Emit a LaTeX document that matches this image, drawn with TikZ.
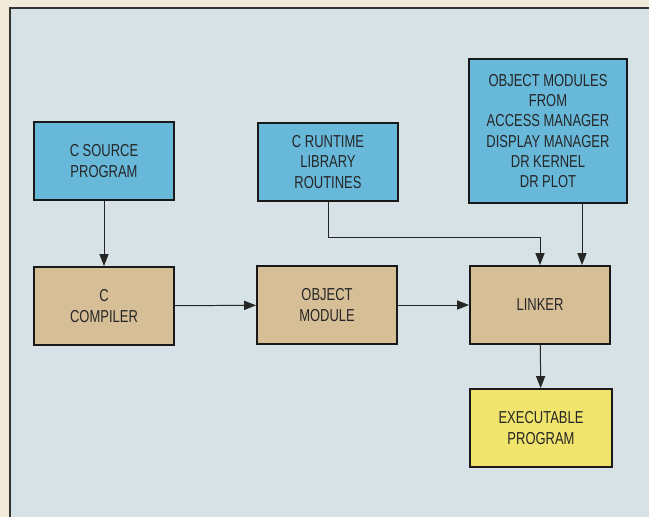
\documentclass[tikz,border=0pt]{standalone}
\usepackage{fontspec}
\newfontfamily\boxfont{Liberation Sans}[FakeStretch=0.75]
\usepackage{xcolor}
\usepackage{tikz}
\usetikzlibrary{arrows.meta,positioning,calc}
\definecolor{pagecream}{RGB}{242,234,216}
\definecolor{panelgrey}{RGB}{214,226,229}
\definecolor{inblue}{RGB}{104,184,218}
\definecolor{steptan}{RGB}{214,190,150}
\definecolor{outyellow}{RGB}{240,228,108}

\begin{document}
\begin{tikzpicture}[
  x=0.025cm,y=-0.025cm,
  every node/.style={font=\boxfont\fontsize{12.3}{14.4}\selectfont,text=black!85},
  inbox/.style={draw=black!90,line width=1.4pt,minimum width=3.5cm,minimum height=1.95cm,align=center,fill=inblue},
  stepbox/.style={draw=black!90,line width=1.4pt,minimum width=3.5cm,minimum height=1.95cm,align=center,fill=steptan},
  outbox/.style={draw=black!90,line width=1.4pt,minimum width=3.55cm,minimum height=1.95cm,align=center,fill=outyellow},
  arr/.style={-{Triangle[length=8.5pt,width=6.5pt]},line width=0.7pt,draw=black!85}
]
\useasboundingbox (0,0) rectangle (649,517);
\fill[pagecream] (0,0) rectangle (649,517);
\filldraw[fill=panelgrey,draw=black!80,line width=1.4pt] (10,8) rectangle (690,560);
% inputs
\node[inbox] (src) at (104,161) {C SOURCE\\PROGRAM};
\node[inbox] (rt) at (328,162) {C RUNTIME\\LIBRARY\\ROUTINES};
\node[inbox,minimum width=3.95cm,minimum height=3.575cm] (mods) at (548,131)
  {OBJECT MODULES\\FROM\\ACCESS MANAGER\\DISPLAY MANAGER\\DR KERNEL\\DR PLOT};
% build steps
\node[stepbox] (comp) at (104,306) {C\\COMPILER};
\node[stepbox] (obj) at (327,305) {OBJECT\\MODULE};
\node[stepbox] (link) at (540,305) {LINKER};
\node[outbox] (exe) at (541,428) {EXECUTABLE\\PROGRAM};
\coordinate (mtap) at (582,0);
\draw[arr] (src) -- (comp);
\draw[arr] (comp) -- (obj);
\draw[arr] (obj) -- (link);
\draw[arr] (rt.south) -- ++(0,35) -| (link.north);
\draw[arr] (mods.south -| mtap) -- (link.north -| mtap);
\draw[arr] (link) -- (exe);
\end{tikzpicture}
\end{document}
